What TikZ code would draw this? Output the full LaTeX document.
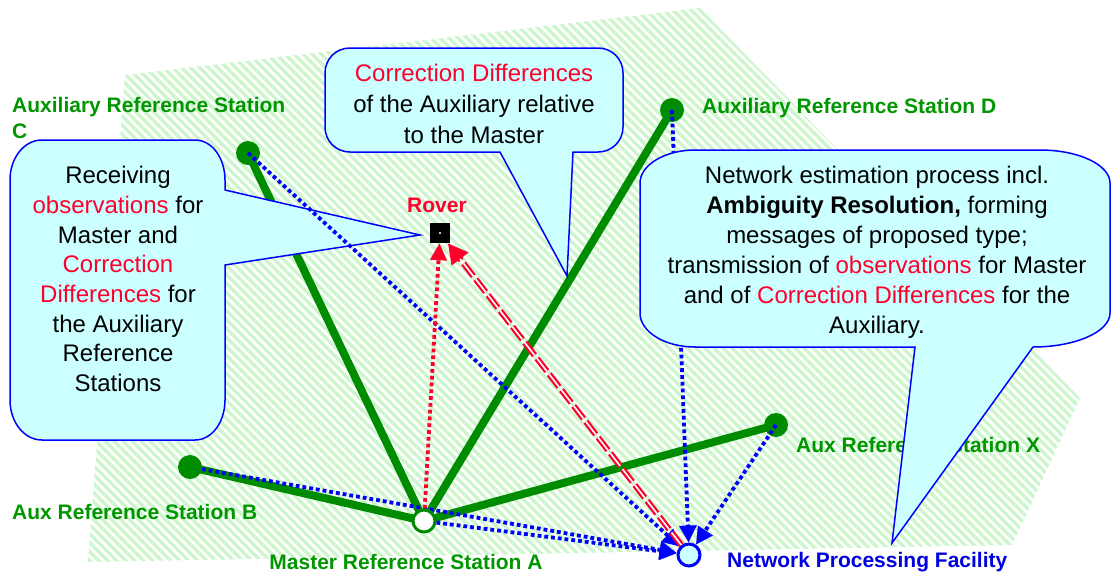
\documentclass[tikz,border=0pt]{standalone}
\usepackage{fontspec}
\setmainfont{Liberation Sans}
\usetikzlibrary{arrows.meta}

\definecolor{stgreen}{RGB}{0,140,0}
\definecolor{txgreen}{RGB}{0,150,0}
\definecolor{cfill}{RGB}{204,255,255}
\definecolor{cblue}{RGB}{0,0,255}
\definecolor{nblue}{RGB}{0,0,225}
\definecolor{hred}{RGB}{255,0,45}
\definecolor{hatchgreen}{RGB}{204,246,204}

\pgfdeclarelayer{hatchL}
\pgfdeclarelayer{greenL}
\pgfdeclarelayer{stationL}
\pgfdeclarelayer{dlineL}
\pgfdeclarelayer{calloutL}
\pgfdeclarelayer{topL}
\pgfsetlayers{hatchL,greenL,stationL,dlineL,calloutL,main,topL}

\tikzset{
  station/.style={circle, fill=stgreen, minimum size=24pt, inner sep=0pt},
  master/.style={circle, draw=stgreen, line width=3pt, fill=white, minimum size=22pt, inner sep=0pt},
  facility/.style={circle, draw=cblue, line width=3pt, fill=cfill, minimum size=22pt, inner sep=0pt},
  roverbox/.style={rectangle, fill=black, minimum size=20pt, inner sep=0pt},
  baselink/.style={draw=stgreen, line width=8pt},
  obslink/.style={draw=cblue, line width=3.8pt, dash pattern=on 3.8pt off 3pt,
    -{Triangle[length=17pt,width=17pt]}},
  redobs/.style={draw=hred, line width=3.8pt, dash pattern=on 3.8pt off 3pt,
    -{Triangle[length=17pt,width=16pt]}},
  callout/.style={draw=cblue, line width=1.5pt, fill=cfill},
  ctext/.style={font=\fontsize{24}{30}\selectfont, align=center, inner sep=0pt},
  slabel/.style={font=\fontsize{21}{26}\selectfont\bfseries, text=txgreen, inner sep=0pt},
  hatchline/.style={draw=hatchgreen, line width=3.4pt},
}

\begin{document}
\begin{tikzpicture}[x=1pt,y=-1pt]
\useasboundingbox (0,0) rectangle (1111,574);

% stations
\begin{pgfonlayer}{stationL}
  \node[station] (C) at (248,153) {};
  \node[station] (D) at (672,110) {};
  \node[station] (B) at (190,467) {};
  \node[station] (X) at (776,425) {};
  \node[slabel, anchor=west, align=left] (Clab) at (12,118) {Auxiliary Reference Station\\C};
  \node[slabel, anchor=west] (Dlab) at (702,108) {Auxiliary Reference Station D};
  \node[slabel, anchor=west] (Xlab) at (796,445) {Aux Reference Station X};
  \node[slabel, anchor=west] (Blab) at (12,512) {Aux Reference Station B};
  \node[slabel] (Alab) at (406,562) {Master Reference Station A};
  \node[slabel, text=nblue, anchor=west] (Nlab) at (727,562) {Network Processing Facility};
  \node[slabel, text=hred] (Rlab) at (437,205) {Rover};
\end{pgfonlayer}

\begin{pgfonlayer}{topL}
  \node[master] (A) at (424,521) {};
  \node[facility] (npf) at (689,555) {};
  \node[roverbox] (rover) at (440,233) {};
  \fill[white] (rover.center) circle (1.1pt);
\end{pgfonlayer}

% hatched network area
\begin{pgfonlayer}{hatchL}
  \begin{scope}
    \clip (125,75) -- (700,8) -- (1080,398) -- (1012,545) -- (88,562) -- cycle;
    \foreach \k in {-480,-471,...,1100}
      \draw[hatchline] (\k,0) -- ++(600,600);
  \end{scope}
\end{pgfonlayer}

% baselines to the master station
\begin{pgfonlayer}{greenL}
  \draw[baselink] (A.center) -- (C.center);
  \draw[baselink] (A.center) -- (D.center);
  \draw[baselink] (A.center) -- (B.center);
  \draw[baselink] (A.center) -- (X.center);
\end{pgfonlayer}

\begin{pgfonlayer}{dlineL}
  \draw[obslink] (D.center) -- (npf);
\end{pgfonlayer}

% callouts
\begin{pgfonlayer}{calloutL}
  \draw[callout] (10,180) .. controls (10,158) and (24,140) .. (42,140)
    -- (195,140) .. controls (212,140) and (225,158) .. (225,180)
    -- (225,190) -- (420,235) -- (225,265)
    -- (225,400) .. controls (225,422) and (212,440) .. (195,440)
    -- (42,440) .. controls (24,440) and (10,422) .. (10,400) -- cycle;
  \node[ctext, font=\fontsize{24}{29.7}\selectfont] (ltext) at (118,279)
    {Receiving\\ \textcolor{hred}{observations} for\\ Master and\\
     \textcolor{hred}{Correction}\\ \textcolor{hred}{Differences} for\\
     the Auxiliary\\ Reference\\ Stations};

  \draw[callout] (325,73) .. controls (325,59) and (336,48) .. (350,48)
    -- (598,48) .. controls (612,48) and (623,59) .. (623,73)
    -- (623,127) .. controls (623,141) and (612,152) .. (598,152)
    -- (573,152) -- (567,276) -- (500,152)
    -- (350,152) .. controls (336,152) and (325,141) .. (325,127) -- cycle;
  \node[ctext, font=\fontsize{24}{31}\selectfont] (ttext) at (474,104)
    {\textcolor{hred}{Correction Differences}\\ of the Auxiliary relative\\ to the Master};

  \draw[callout] (640,183) .. controls (640,165) and (665,150) .. (695,150)
    -- (1040,150) .. controls (1079,150) and (1110,165) .. (1110,183)
    -- (1110,313) .. controls (1110,332) and (1075,347) .. (1033,347)
    -- (892,543) -- (915,347)
    -- (695,347) .. controls (665,347) and (640,332) .. (640,313) -- cycle;
  \node[ctext] (rtext) at (877,252)
    {Network estimation process incl.\\
     \textbf{Ambiguity Resolution,} forming\\
     messages of proposed type;\\
     transmission of \textcolor{hred}{observations} for Master\\
     and of \textcolor{hred}{Correction Differences} for the\\
     Auxiliary.};
\end{pgfonlayer}

% observation flows to the processing facility
\draw[obslink] (C.center) -- (npf);
\draw[obslink] (B) -- (npf);
\draw[obslink] (A) -- (npf);
\draw[obslink] (X.center) -- (npf);

% corrections delivered to the rover
\draw[redobs] (A) -- (rover);
\draw[draw=hred, line width=6pt, dash pattern=on 16pt off 4pt,
  -{Triangle[length=20pt,width=20pt]}] (npf) -- (rover);
\draw[draw=white, line width=1.6pt, dash pattern=on 16pt off 4pt,
  shorten >=20pt] (npf) -- (rover);
\end{tikzpicture}
\end{document}
